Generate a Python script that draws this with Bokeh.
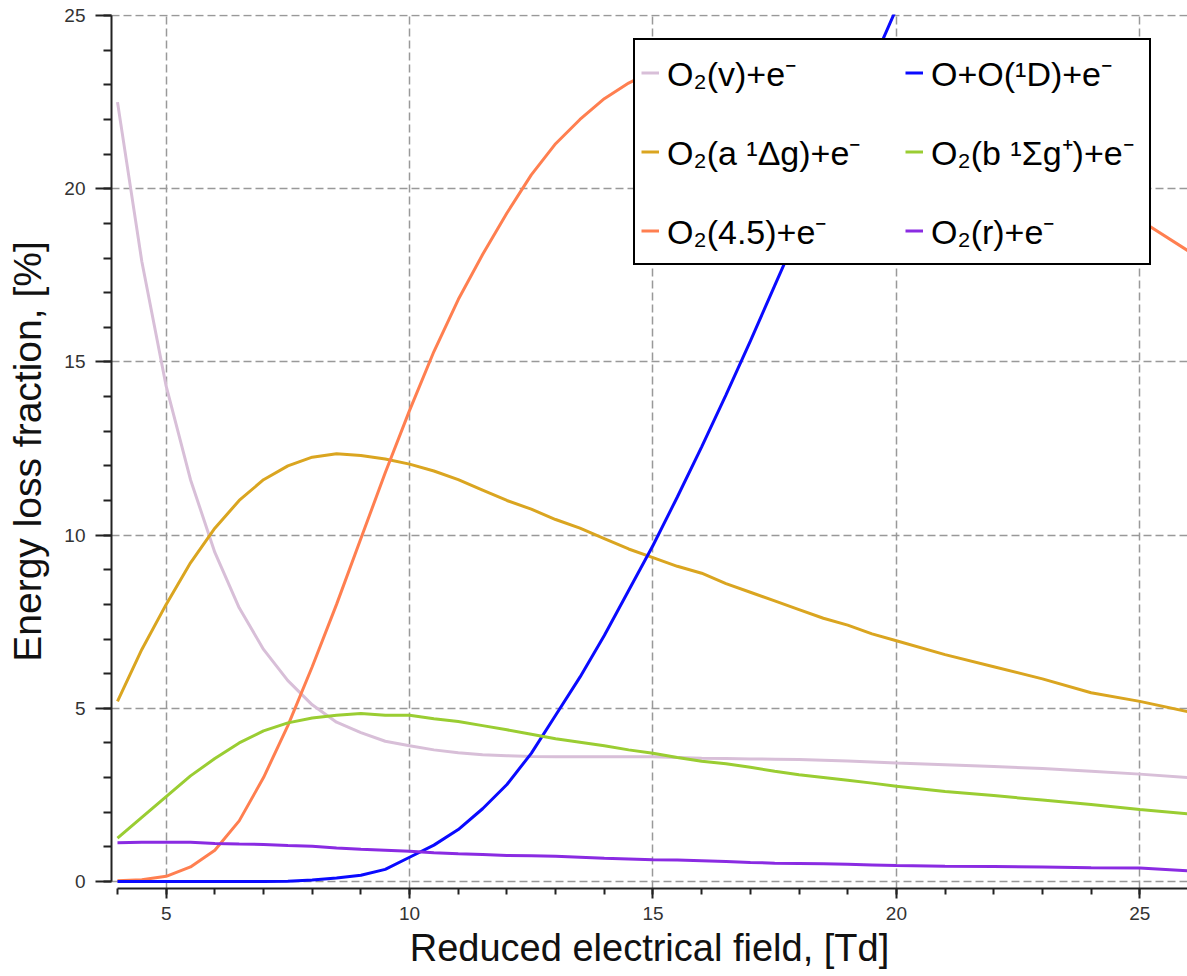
from bokeh.plotting import figure
from bokeh.models import SingleIntervalTicker, Legend, LegendItem, Range1d
from bokeh.embed import file_html
from bokeh.resources import INLINE

# Reduced electrical field, Td
E_td = [4, 4.5, 5, 5.5, 6, 6.5, 7, 7.5, 8, 8.5, 9, 9.5, 10, 10.5, 11, 11.5,
        12, 12.5, 13, 13.5, 14, 14.5, 15, 15.5, 16, 16.5, 17, 17.5, 18, 18.5,
        19, 19.5, 20, 21, 22, 23, 24, 25, 26]

o2_v = [22.5, 17.9, 14.3, 11.6, 9.5, 7.9, 6.7, 5.8, 5.1, 4.6, 4.3, 4.05, 3.92, 3.8, 3.72, 3.66,
        3.63, 3.61, 3.6, 3.6, 3.6, 3.6, 3.6, 3.58, 3.56, 3.55, 3.54, 3.53, 3.52, 3.5,
        3.48, 3.45, 3.42, 3.37, 3.32, 3.26, 3.18, 3.1, 3.0]

o2_a = [5.2, 6.7, 8.0, 9.2, 10.2, 11.0, 11.6, 12.0, 12.25, 12.35, 12.3, 12.2, 12.05, 11.85, 11.6, 11.3,
        11.0, 10.75, 10.45, 10.2, 9.9, 9.6, 9.35, 9.1, 8.9, 8.6, 8.35, 8.1, 7.85, 7.6,
        7.4, 7.15, 6.95, 6.55, 6.2, 5.85, 5.45, 5.2, 4.9]

o2_45 = [0.02, 0.05, 0.15, 0.42, 0.9, 1.75, 3.0, 4.5, 6.2, 8.0, 9.9, 11.8, 13.6, 15.3, 16.8, 18.1,
         19.3, 20.4, 21.3, 22.0, 22.6, 23.05, 23.4, 23.6, 23.75, 23.8, 23.8, 23.7, 23.55, 23.35,
         23.1, 22.85, 22.55, 21.9, 21.2, 20.5, 19.8, 19.1, 18.2]

o_o1d = [0.0, 0.0, 0.0, 0.0, 0.0, 0.0, 0.0, 0.01, 0.04, 0.1, 0.18, 0.35, 0.7, 1.05, 1.5, 2.1,
         2.8, 3.7, 4.8, 5.9, 7.1, 8.4, 9.7, 11.1, 12.55, 14.05, 15.6, 17.2, 18.8, 20.4,
         22.0, 23.6, 25.2, 28.4, 31.4, 34.3, 37.1, 39.8, 42.4]

o2_b = [1.25, 1.85, 2.45, 3.05, 3.55, 4.0, 4.35, 4.58, 4.72, 4.8, 4.85, 4.8, 4.8, 4.7, 4.62, 4.5,
        4.38, 4.25, 4.12, 4.02, 3.92, 3.8, 3.7, 3.58, 3.47, 3.4, 3.3, 3.18, 3.08, 3.0,
        2.92, 2.84, 2.75, 2.6, 2.48, 2.35, 2.22, 2.08, 1.95]

o2_r = [1.12, 1.13, 1.13, 1.13, 1.1, 1.08, 1.07, 1.04, 1.02, 0.97, 0.93, 0.9, 0.87, 0.83, 0.8, 0.78,
        0.75, 0.74, 0.73, 0.7, 0.67, 0.65, 0.63, 0.62, 0.6, 0.58, 0.55, 0.53, 0.52, 0.51,
        0.5, 0.48, 0.46, 0.44, 0.43, 0.42, 0.4, 0.39, 0.31]

labels = ["O₂(v)+e⁻", "O₂(a ¹Δg)+e⁻", "O₂(4.5)+e⁻",
          "O+O(¹D)+e⁻", "O₂(b ¹Σg⁺)+e⁻", "O₂(r)+e⁻"]
series = [o2_v, o2_a, o2_45, o_o1d, o2_b, o2_r]
colors = ["#d8bfd8", "#daa520", "#ff7f50", "#0a0aff", "#9acd32", "#8a2be2"]

FONT = "Liberation Sans"

p = figure(width=1187, height=976, output_backend="svg", toolbar_location=None,
           x_range=Range1d(3.877, 25.98), y_range=Range1d(-0.202, 25.03),
           min_border_left=111, min_border_right=0, min_border_top=14,
           min_border_bottom=88)
p.outline_line_color = None
p.background_fill_color = "white"

items = []
for lab, ys, col in zip(labels, series, colors):
    r = p.line(E_td, ys, line_color=col, line_width=3)
    items.append(LegendItem(label=lab, renderers=[r]))

for ax in (p.xaxis[0], p.yaxis[0]):
    ax.axis_line_color = "#222222"
    ax.axis_line_width = 2
    ax.major_tick_line_color = "#222222"
    ax.major_tick_line_width = 2
    ax.minor_tick_line_color = "#222222"
    ax.minor_tick_line_width = 2
    ax.major_tick_in = 0
    ax.minor_tick_in = 0
    ax.major_label_text_font = FONT
    ax.major_label_text_font_size = "19px"
    ax.major_label_text_color = "#333333"
    ax.axis_label_text_font = FONT
    ax.axis_label_text_font_style = "normal"
    ax.axis_label_text_color = "#111111"
    ax.ticker = SingleIntervalTicker(interval=5, num_minor_ticks=5)

p.xaxis.axis_label = "Reduced electrical field, [Td]"
p.yaxis.axis_label = "Energy loss fraction, [%]"
p.xaxis.axis_label_text_font_size = "38px"
p.yaxis.axis_label_text_font_size = "39px"
p.xaxis.bounds = (4, 26)
p.yaxis.bounds = (0, 25)
p.xaxis.major_tick_out = 10
p.xaxis.minor_tick_out = 6
p.yaxis.major_tick_out = 16
p.yaxis.minor_tick_out = 8
p.xaxis.major_label_standoff = 8
p.yaxis.major_label_standoff = 10
p.xaxis.axis_label_standoff = 4
p.yaxis.axis_label_standoff = 12

p.grid.grid_line_color = "#999999"
p.grid.grid_line_dash = "8 4"
p.grid.grid_line_width = 1.5

legend = Legend(items=items, nrows=3, ncols=2, location=(522, 623), margin=0,
                border_line_color="black", border_line_width=2.5, border_line_alpha=1.0,
                background_fill_color="white", background_fill_alpha=1.0,
                padding=6, spacing=26, label_height=53, glyph_height=53,
                label_width=212, glyph_width=18, label_standoff=8,
                label_text_font=FONT, label_text_font_size="34px",
                label_text_color="black")
p.add_layout(legend)

open("out.html", "w").write(file_html(p, INLINE))
